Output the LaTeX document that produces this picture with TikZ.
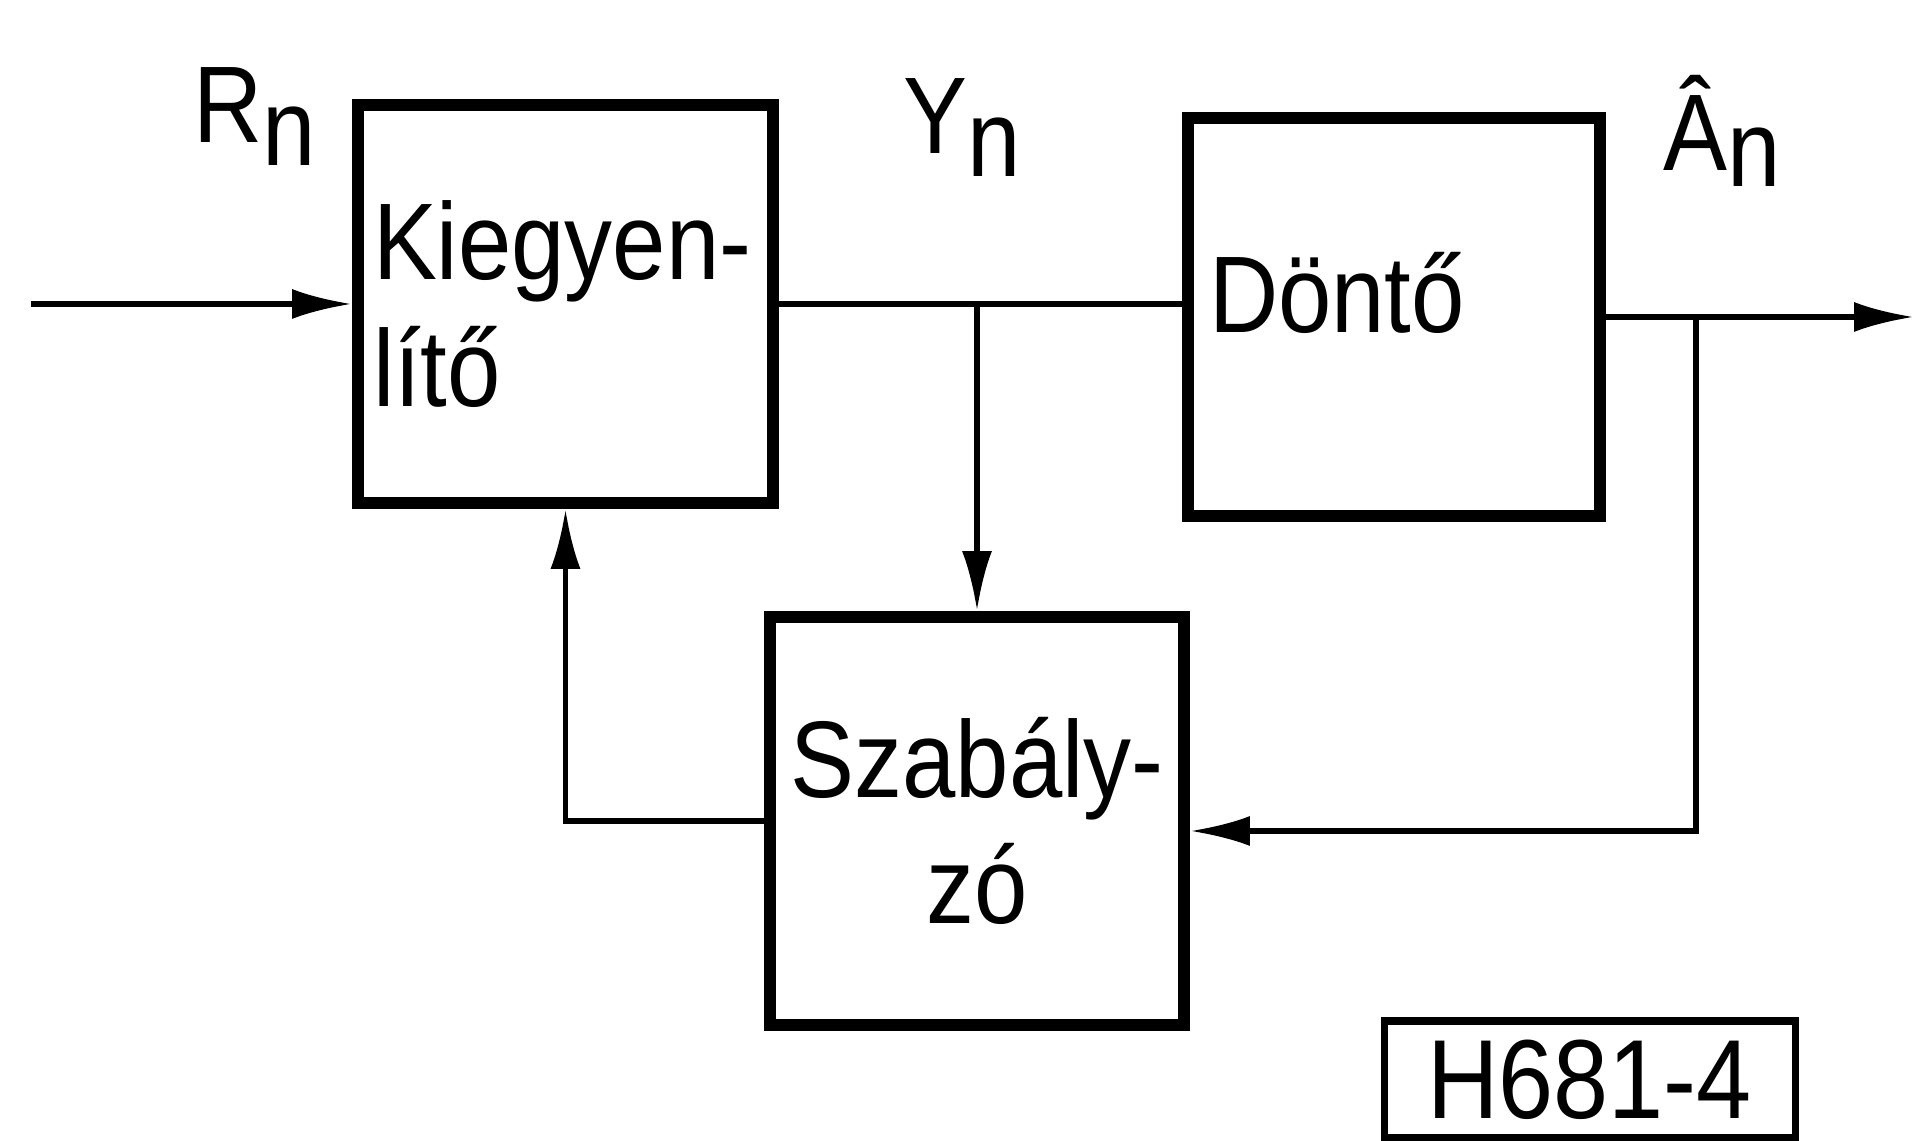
\documentclass[tikz,border=0pt]{standalone}
\usepackage{fontspec}
\setmainfont{Liberation Sans}[FakeStretch=0.88]
\usepackage{tikz}
\usetikzlibrary{arrows.meta}

\begin{document}
\begin{tikzpicture}[
  blokk/.style={shape=rectangle,draw=black,line width=3.4pt,inner sep=0pt,
    font=\fontsize{31}{36}\selectfont},
  felirat/.style={anchor=base west,inner sep=0pt,font=\fontsize{31}{36}\selectfont},
  vonal/.style={line width=1.6pt},
  nyil/.style={vonal,-{Latex[length=6mm,width=3mm]}}]
  \useasboundingbox (0,0) rectangle (19.14,11.41);

   \node[blokk,minimum width=4.15cm,minimum height=3.98cm,text width=3.85cm,align=left] (K) at (5.655,8.37) {Kiegyen-\\lítő};
   \node[blokk,minimum width=4.12cm,minimum height=3.98cm,text width=3.7cm,text depth=0.5cm,align=left] (D) at (13.94,8.24) {Döntő};
   \node[blokk,minimum width=4.14cm,minimum height=4.08cm,text width=3.95cm,align=center] (Sz) at (9.77,3.20) {Szabály-\\zó};
   \node[blokk,line width=2pt,minimum width=4.11cm,minimum height=1.17cm,font=\fontsize{32}{36}\selectfont] (H) at (15.895,0.615) {H681-4};

   \node[felirat] (Rn) at (1.93,9.98) {R\raisebox{-0.23cm}{n}};
   \node[felirat] (Yn) at (9.03,9.87) {Y\raisebox{-0.23cm}{n}};
   \node[felirat] (An) at (16.63,9.70) {Â\raisebox{-0.16cm}{n}};

   \coordinate (be) at (0.31,8.37);
   \coordinate (ki) at (19.14,8.24);
   \coordinate (elag) at (16.96,8.24);

   \draw[nyil] (be) -- (K.west);
   \draw[vonal] (K.east) -- (K.east -| D.west);
   \draw[nyil] (K.east -| Sz.north) -- (Sz.north);
   \draw[nyil] (D.east) -- (ki);
   \draw[nyil] (elag) |- ([yshift=-0.1cm]Sz.east);
   \draw[nyil] (Sz.west) -| (K.south);

\end{tikzpicture}
\end{document}
